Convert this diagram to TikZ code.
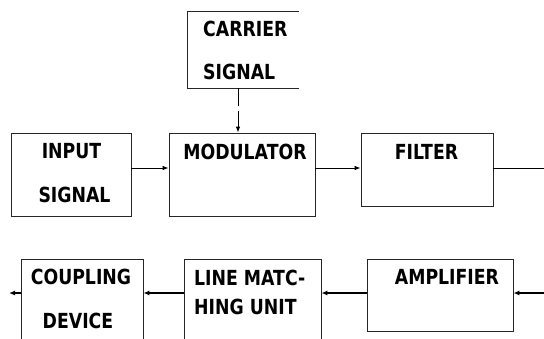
\documentclass[tikz,border=0pt]{standalone}
\usepackage{fontspec}
\setmainfont{DejaVu Sans}
\usetikzlibrary{arrows.meta}
\newcommand{\tallt}[1]{\scalebox{1}[1.2]{#1}}
\begin{document}
\begin{tikzpicture}[x=1pt,y=-1pt,
  lbl/.style={font=\fontsize{17.3}{20}\selectfont\bfseries, inner sep=0pt},
  box/.style={draw=black!85, line width=0.8pt, rectangle, inner sep=0pt},
  conn/.style={line width=0.8pt, -{Latex[length=6pt,width=4.5pt]}},
  connb/.style={line width=1.3pt, -{Latex[length=6pt,width=5pt]}}]
\useasboundingbox (0,0) rectangle (544,338);
\clip (0,0) rectangle (544,338);
% boxes
\node[inner sep=0pt, minimum width=111pt, minimum height=76pt] (car) at (243.5,50) {};
\draw[line width=0.8pt, black!85] (car.north east) -- (car.north west) -- (car.south west) -- (car.south east);
\node[box, minimum width=120pt, minimum height=83pt] (inp) at (71,174.5) {};
\node[box, minimum width=146pt, minimum height=83pt] (mod) at (242,174.5) {};
\node[box, minimum width=132pt, minimum height=73pt] (fil) at (427,169.5) {};
\node[box, minimum width=122pt, minimum height=100pt] (cou) at (82,309) {};
\node[box, minimum width=137pt, minimum height=100pt] (lin) at (252.5,309) {};
\node[box, minimum width=146pt, minimum height=72pt] (amp) at (440,295) {};
% texts
\node[lbl, anchor=west] (t1) at (203,29) {\tallt{CARRIER}};
\node[lbl, anchor=west] (t2) at (203,72) {\tallt{SIGNAL}};
\node[lbl] (t3) at (71.5,151) {\tallt{INPUT}};
\node[lbl] (t4) at (74.5,195) {\tallt{SIGNAL}};
\node[lbl] (t5) at (245,151.5) {\tallt{MODULATOR}};
\node[lbl] (t6) at (426.5,152) {\tallt{FILTER}};
\node[lbl] (t7) at (81,277) {\tallt{COUPLING}};
\node[lbl] (t8) at (78,321) {\tallt{DEVICE}};
\node[lbl, anchor=west] (t9) at (194,278) {\tallt{LINE MATC-}};
\node[lbl, anchor=west] (t10) at (194,307) {\tallt{HING UNIT}};
\node[lbl] (t11) at (447,277) {\tallt{AMPLIFIER}};
% connectors
\coordinate (fe) at (544,168);
\coordinate (ae) at (544,293);
\coordinate (ce) at (9,293);
\draw[conn, dash pattern=on 18pt off 5pt] (car.south -| 238,0) -- (mod.north -| 238,0);
\draw[conn] (inp.east |- 0,168) -- (mod.west |- 0,168);
\draw[conn] (mod.east |- 0,168) -- (fil.west |- 0,168);
\draw[line width=0.8pt] (fil.east |- 0,168) -- (fe);
\draw[connb] (ae) -- (amp.east |- 0,293);
\draw[connb] (amp.west |- 0,293) -- (lin.east |- 0,293);
\draw[connb] (lin.west |- 0,293) -- (cou.east |- 0,293);
\draw[connb] (cou.west |- 0,293) -- (ce);
\end{tikzpicture}
\end{document}
